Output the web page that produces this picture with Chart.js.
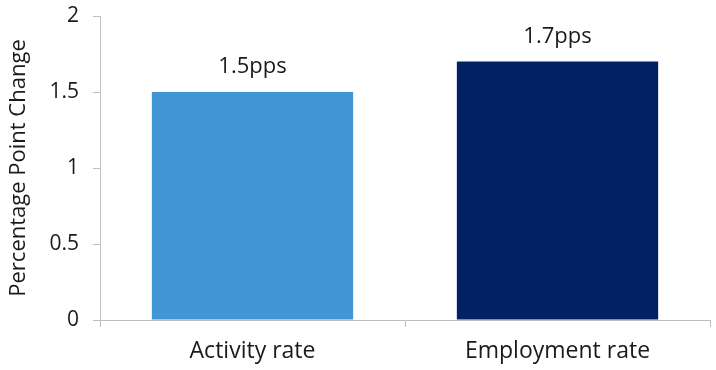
<!DOCTYPE html>
<html lang="en">
<head>
    <meta charset="UTF-8">
    <title>Percentage Point Change</title>
    <script src="https://cdn.jsdelivr.net/npm/chart.js"></script>
    <style>
        html, body {
            margin: 0;
            padding: 0;
            background: #ffffff;
        }
        .chart-container {
            width: 716px;
            height: 370px;
        }
    </style>
</head>
<body>
    <div class="chart-container">
        <canvas id="changeChart"></canvas>
    </div>

    <script>
        // Chart data
        const categories = ['Activity rate', 'Employment rate'];
        const changes = [1.5, 1.7];
        const barColors = ['#4197d5', '#022162'];
        const yTicks = [0, 0.5, 1, 1.5, 2];

        const axisGrey = '#bfbfbf';
        const textColor = '#1a1a1a';
        const fontFamily = '"Open Sans", "Noto Sans", sans-serif';

        // Draw "x.xpps" above each bar
        const barLabels = {
            id: 'barLabels',
            afterDatasetsDraw(chart) {
                const { ctx } = chart;
                const meta = chart.getDatasetMeta(0);
                ctx.save();
                ctx.font = '22px ' + fontFamily;
                ctx.fillStyle = textColor;
                ctx.textAlign = 'center';
                ctx.textBaseline = 'alphabetic';
                meta.data.forEach((bar, i) => {
                    const value = chart.data.datasets[0].data[i];
                    ctx.fillText(value.toFixed(1) + 'pps', bar.x, bar.y - 19);
                });
                ctx.restore();
            }
        };

        const ctx = document.getElementById('changeChart').getContext('2d');
        const changeChart = new Chart(ctx, {
            type: 'bar',
            data: {
                labels: categories,
                datasets: [{
                    data: changes,
                    backgroundColor: barColors,
                    borderColor: barColors,
                    borderWidth: 0,
                    categoryPercentage: 1,
                    barPercentage: 0.66
                }]
            },
            options: {
                responsive: true,
                maintainAspectRatio: false,
                animation: false,
                layout: {
                    padding: { top: 16, right: 6, left: 0, bottom: 0 }
                },
                plugins: {
                    legend: { display: false },
                    tooltip: { enabled: false }
                },
                scales: {
                    x: {
                        grid: {
                            drawOnChartArea: false,
                            drawTicks: true,
                            tickLength: 7,
                            color: axisGrey,
                            offset: true
                        },
                        border: { color: axisGrey, width: 1 },
                        ticks: {
                            color: textColor,
                            padding: 11,
                            font: { family: fontFamily, size: 23 }
                        },
                        afterFit(scale) {
                            scale.height = 50;
                            scale.paddingLeft = 0;
                            scale.paddingRight = 0;
                        }
                    },
                    y: {
                        min: 0,
                        max: 2,
                        afterBuildTicks(scale) {
                            scale.ticks = yTicks.map(v => ({ value: v }));
                        },
                        grid: {
                            drawOnChartArea: false,
                            drawTicks: true,
                            tickLength: 7,
                            color: axisGrey
                        },
                        border: { color: axisGrey, width: 1 },
                        ticks: {
                            color: textColor,
                            padding: 14,
                            font: { family: fontFamily, size: 21 },
                            callback: v => String(v)
                        },
                        title: {
                            display: true,
                            text: 'Percentage Point Change',
                            color: textColor,
                            padding: { top: 6, bottom: 0 },
                            font: { family: fontFamily, size: 22 }
                        },
                        afterFit(scale) {
                            scale.width = 100;
                            scale.paddingTop = 0;
                            scale.paddingBottom = 0;
                        }
                    }
                }
            },
            plugins: [barLabels]
        });
    </script>
</body>
</html>
